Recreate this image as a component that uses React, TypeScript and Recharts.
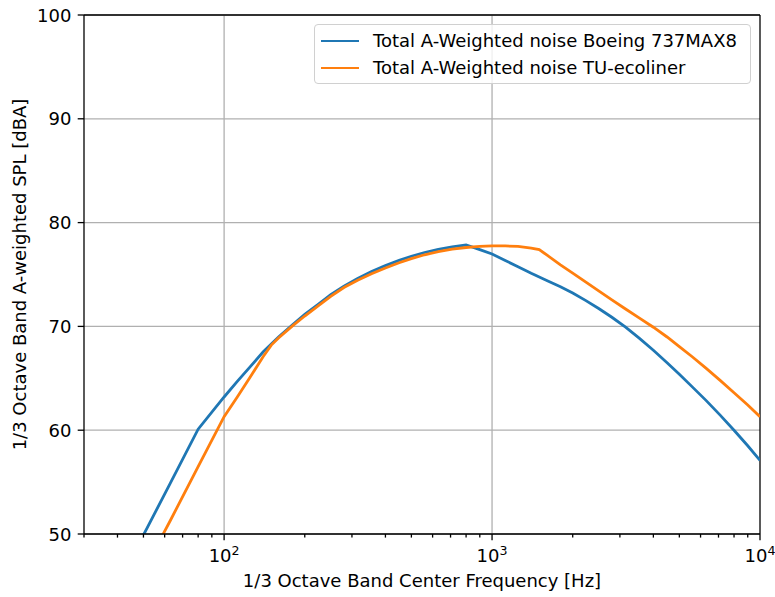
import React from 'react';
import {
    LineChart,
    Line,
    CartesianGrid,
    XAxis,
    YAxis,
    Legend,
    ReferenceLine,
    Label,
} from 'recharts';

// values (Hz, dBA)
const boeingFreq = [50, 63, 80, 100, 112, 125, 140, 160, 180, 200, 225, 250, 280, 315, 355, 400, 450, 500, 560, 630, 710, 800, 900, 1000, 1120, 1250, 1400, 1600, 1800, 2000, 2240, 2500, 2800, 3150, 3550, 4000, 4500, 5000, 5600, 6300, 7100, 8000, 9000, 10000];
const boeingSpl = [49.9, 54.9, 60.1, 63.2, 64.7, 66.1, 67.55, 69.0, 70.15, 71.15, 72.15, 73.05, 73.88, 74.62, 75.28, 75.86, 76.36, 76.76, 77.12, 77.43, 77.66, 77.84, 77.4, 76.97, 76.35, 75.75, 75.12, 74.42, 73.83, 73.21, 72.48, 71.72, 70.88, 69.93, 68.85, 67.7, 66.5, 65.4, 64.15, 62.85, 61.45, 60.0, 58.5, 57.1];

const ecolinerFreq = [50, 63, 80, 100, 112, 125, 140, 150, 160, 180, 200, 225, 250, 280, 315, 355, 400, 450, 500, 560, 630, 710, 800, 900, 1000, 1120, 1250, 1400, 1500, 1600, 1800, 2000, 2240, 2500, 2800, 3150, 3550, 4000, 4500, 5000, 5600, 6300, 7100, 8000, 9000, 10000];
const ecolinerSpl = [46.4, 51.3, 56.5, 61.3, 63.2, 65.1, 67.1, 68.2, 68.9, 70.05, 71.0, 72.0, 72.9, 73.75, 74.45, 75.08, 75.63, 76.13, 76.53, 76.9, 77.2, 77.45, 77.6, 77.7, 77.75, 77.75, 77.7, 77.55, 77.4, 76.88, 75.93, 75.13, 74.26, 73.42, 72.55, 71.68, 70.8, 69.92, 68.98, 68.05, 67.05, 65.95, 64.8, 63.6, 62.42, 61.3];

const xMajor = [100, 1000, 10000];
const xTicks = [30, 40, 50, 60, 70, 80, 90, 100, 200, 300, 400, 500, 600, 700, 800, 900, 1000, 2000, 3000, 4000, 5000, 6000, 7000, 8000, 9000, 10000];
const yTicks = [50, 60, 70, 80, 90, 100];

const boeing = boeingFreq.map((f, i) => ({ f, spl: boeingSpl[i] }));
const ecoliner = ecolinerFreq.map((f, i) => ({ f, spl: ecolinerSpl[i] }));

const FONT = '"DejaVu Sans", sans-serif';

const XTick = (props: any) => {
    const { x, y, payload } = props;
    const v = payload.value;
    const major = xMajor.includes(v);
    const exp = Math.round(Math.log10(v));
    return (
        <g>
            <line x1={x} x2={x} y1={y} y2={y + (major ? 6.3 : 3.6)} stroke="#000" strokeWidth={1.3} />
            {major && (
                <text x={x} y={y + 28} textAnchor="middle" fontSize={18} fill="#000" fontFamily={FONT}>
                    10<tspan dy={-7.5} fontSize={12.6}>{exp}</tspan>
                </text>
            )}
        </g>
    );
};

const YTick = (props: any) => {
    const { x, y, payload } = props;
    return (
        <g>
            <line x1={x - 6.3} x2={x} y1={y} y2={y} stroke="#000" strokeWidth={1.3} />
            <text x={x - 12.6} y={y + 6.5} textAnchor="end" fontSize={18} fill="#000" fontFamily={FONT}>
                {payload.value}
            </text>
        </g>
    );
};

const LegendBox = (props: any) => {
    const { payload } = props;
    return (
        <div
            style={{
                border: '1.3px solid #d0d0d0',
                borderRadius: 4,
                background: 'rgba(255,255,255,0.8)',
                padding: '2px 0 2px 6px',
                boxSizing: 'border-box',
                height: 60,
                fontFamily: FONT,
                fontSize: 18,
                color: '#000',
            }}
        >
            {payload.map((p: any) => (
                <div key={p.value} style={{ display: 'flex', alignItems: 'center', height: 27 }}>
                    <span style={{ display: 'inline-block', width: 38, borderTop: `2.8px solid ${p.color}`, marginRight: 14 }} />
                    <span style={{ whiteSpace: 'nowrap' }}>{p.value}</span>
                </div>
            ))}
        </div>
    );
};

export default function App() {
    return (
        <div style={{ width: 775, height: 597, background: '#fff' }}>
            <style>{'body{margin:0}'}</style>
            <LineChart
                width={775}
                height={597}
                margin={{ top: 15, right: 15, bottom: 0, left: 0 }}
                style={{ fontFamily: FONT }}
            >
                <CartesianGrid vertical={false} stroke="#b0b0b0" strokeWidth={1.3} />
                <ReferenceLine x={100} stroke="#b0b0b0" strokeWidth={1.3} />
                <ReferenceLine x={1000} stroke="#b0b0b0" strokeWidth={1.3} />
                <XAxis
                    dataKey="f"
                    type="number"
                    scale="log"
                    domain={[30, 10000]}
                    allowDataOverflow
                    ticks={xTicks}
                    interval={0}
                    tick={<XTick />}
                    tickLine={false}
                    tickSize={0}
                    tickMargin={0}
                    height={63}
                    axisLine={{ stroke: '#000', strokeWidth: 1.3 }}
                >
                    <Label
                        content={() => (
                            <text x={422} y={587} textAnchor="middle" fontSize={18} fill="#000" fontFamily={FONT}>
                                1/3 Octave Band Center Frequency [Hz]
                            </text>
                        )}
                    />
                </XAxis>
                <YAxis
                    type="number"
                    domain={[50, 100]}
                    allowDataOverflow
                    ticks={yTicks}
                    interval={0}
                    tick={<YTick />}
                    tickLine={false}
                    tickSize={0}
                    tickMargin={0}
                    width={84}
                    axisLine={{ stroke: '#000', strokeWidth: 1.3 }}
                >
                    <Label
                        content={() => (
                            <text
                                x={26}
                                y={274.5}
                                transform="rotate(-90 26 274.5)"
                                textAnchor="middle"
                                fontSize={18}
                                fill="#000"
                                fontFamily={FONT}
                            >
                                1/3 Octave Band A-weighted SPL [dBA]
                            </text>
                        )}
                    />
                </YAxis>
                <ReferenceLine y={100} stroke="#000" strokeWidth={1.3} />
                <ReferenceLine x={10000} stroke="#000" strokeWidth={1.3} />
                <Line
                    data={boeing}
                    dataKey="spl"
                    name="Total A-Weighted noise Boeing 737MAX8"
                    type="linear"
                    stroke="#1f77b4"
                    strokeWidth={2.8}
                    dot={false}
                    isAnimationActive={false}
                />
                <Line
                    data={ecoliner}
                    dataKey="spl"
                    name="Total A-Weighted noise TU-ecoliner"
                    type="linear"
                    stroke="#ff7f0e"
                    strokeWidth={2.8}
                    dot={false}
                    isAnimationActive={false}
                />
                <Legend
                    layout="horizontal"
                    verticalAlign="middle"
                    align="center"
                    content={<LegendBox />}
                    wrapperStyle={{ position: 'absolute', top: 24, left: 314, width: 437, height: 60, margin: 0 }}
                />
            </LineChart>
        </div>
    );
}
